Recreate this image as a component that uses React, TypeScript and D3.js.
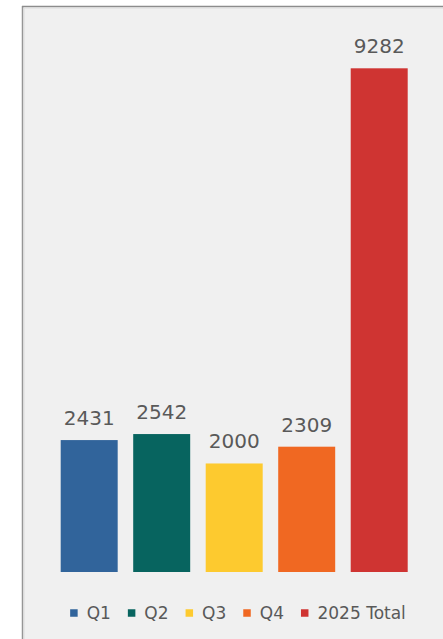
import React, { useEffect, useRef } from "react";
import * as d3 from "d3";

const categories = ["Q1", "Q2", "Q3", "Q4", "2025 Total"];
const values = [2431, 2542, 2000, 2309, 9282];
const colors = ["#31649b", "#07645f", "#fdca2f", "#f06822", "#cf3432"];

const W = 443;
const H = 639;
const FONT = "'DejaVu Sans', Arial, sans-serif";

export default function App() {
  const ref = useRef<SVGSVGElement | null>(null);

  useEffect(() => {
    const svg = d3.select(ref.current);
    svg.selectAll("*").remove();

    // frame
    svg.append("rect").attr("x", 0).attr("y", 0).attr("width", W).attr("height", H).attr("fill", "#ffffff");
    svg.append("rect").attr("x", 23).attr("y", 6).attr("width", W - 23).attr("height", H - 6).attr("fill", "#f0f0f0");
    svg.append("line").attr("x1", 22.5).attr("x2", 22.5).attr("y1", 6).attr("y2", H)
      .attr("stroke", "#969696").attr("stroke-width", 1.5);
    svg.append("line").attr("x1", 22).attr("x2", W).attr("y1", 6.5).attr("y2", 6.5)
      .attr("stroke", "#8c8c8c").attr("stroke-width", 1.5);
    svg.append("line").attr("x1", 24).attr("x2", 24).attr("y1", 8).attr("y2", H)
      .attr("stroke", "#dcdcdc").attr("stroke-width", 1);
    svg.append("line").attr("x1", 24).attr("x2", W).attr("y1", 8).attr("y2", 8)
      .attr("stroke", "#dcdcdc").attr("stroke-width", 1);

    const x = d3.scaleBand<string>().domain(categories).range([60.7, 407.7]).paddingInner(0.214).paddingOuter(0);
    const y = d3.scaleLinear().domain([0, d3.max(values) as number]).range([572, 68.3]);

    const g = svg.append("g");
    g.selectAll("rect.bar")
      .data(categories)
      .join("rect")
      .attr("class", "bar")
      .attr("x", (d) => x(d) as number)
      .attr("width", x.bandwidth())
      .attr("y", (_, i) => y(values[i]))
      .attr("height", (_, i) => y(0) - y(values[i]))
      .attr("fill", (_, i) => colors[i]);

    g.selectAll("text.lbl")
      .data(categories)
      .join("text")
      .attr("class", "lbl")
      .attr("x", (d) => (x(d) as number) + x.bandwidth() / 2)
      .attr("y", (_, i) => y(values[i]) - 15)
      .attr("text-anchor", "middle")
      .attr("font-family", FONT)
      .attr("font-size", 20)
      .attr("fill", "#595959")
      .text((_, i) => String(values[i]));

    // legend
    const leg = svg.append("g");
    const sq = 7.5;
    const gapText = 9;
    const gapItem = 17;
    const items: { g: any; w: number }[] = [];
    categories.forEach((c, i) => {
      const ig = leg.append("g");
      ig.append("rect").attr("x", 0).attr("y", -sq / 2).attr("width", sq).attr("height", sq).attr("fill", colors[i]);
      const t = ig.append("text")
        .attr("x", sq + gapText)
        .attr("y", 6)
        .attr("font-family", FONT)
        .attr("font-size", 17)
        .attr("fill", "#595959")
        .text(c);
      const tw = (t.node() as SVGTextElement).getComputedTextLength();
      items.push({ g: ig, w: sq + gapText + tw });
    });
    const total = items.reduce((s, it) => s + it.w, 0) + gapItem * (items.length - 1);
    let cx = 238 - total / 2;
    items.forEach((it) => {
      it.g.attr("transform", `translate(${cx},613)`);
      cx += it.w + gapItem;
    });
  }, []);

  return (
    <div style={{ position: "absolute", left: 0, top: 0 }}>
      <svg ref={ref} width={W} height={H} style={{ display: "block" }} />
    </div>
  );
}
